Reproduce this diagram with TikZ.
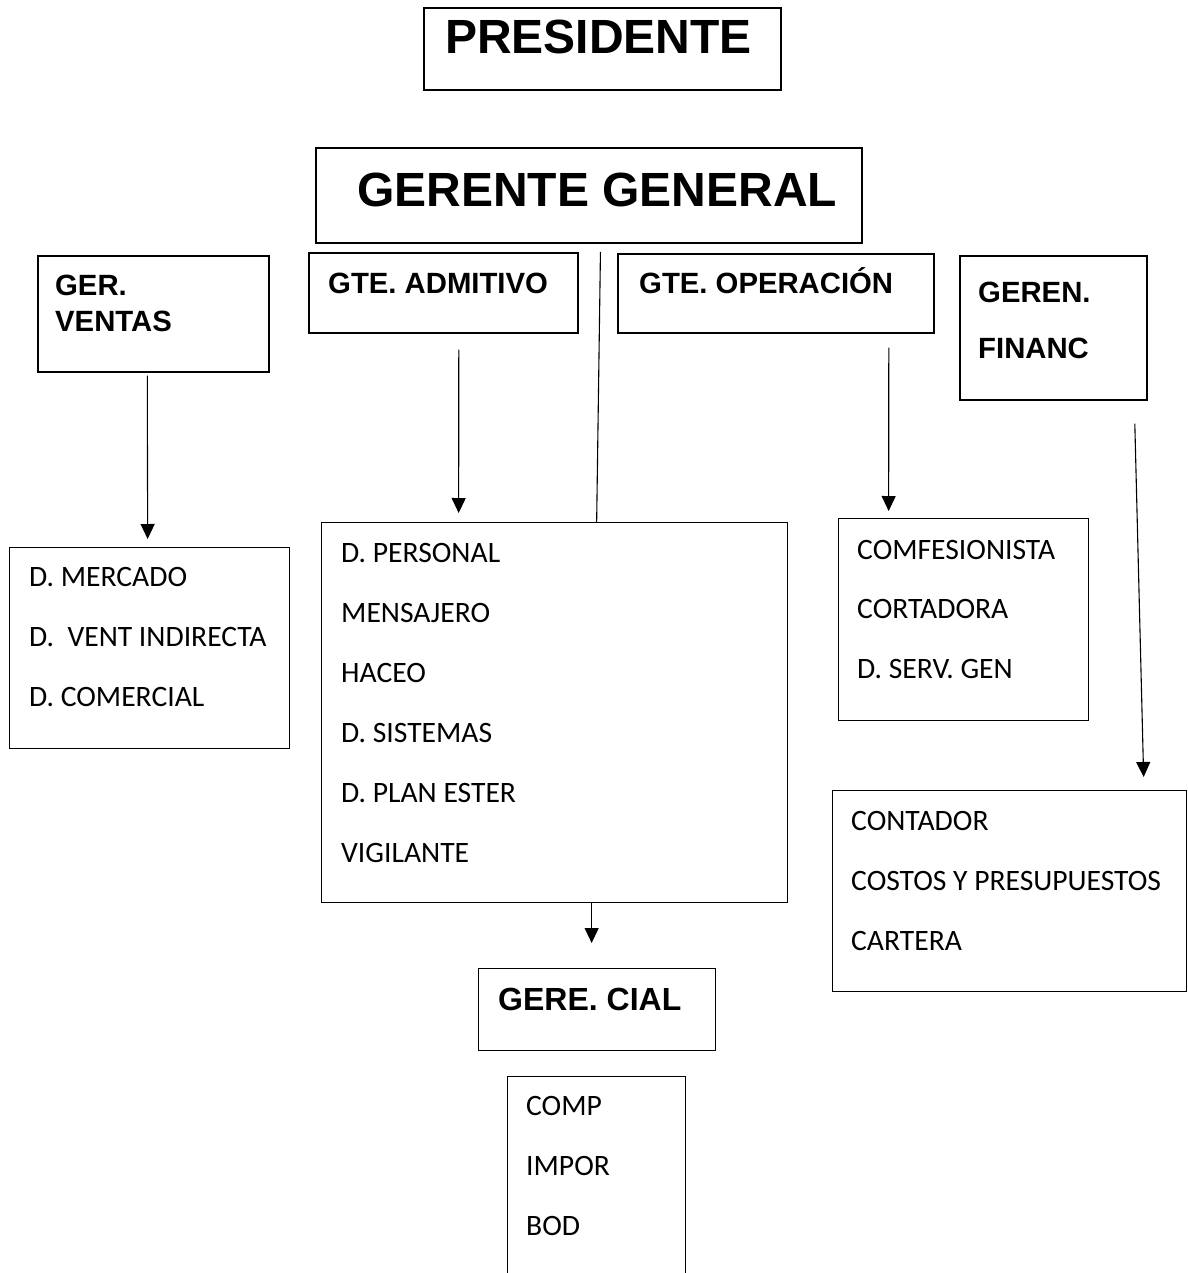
\documentclass[tikz,border=0pt]{standalone}
\usepackage{fontspec}
\setmainfont{Carlito}
\newfontfamily\arialfont{Liberation Sans}
\usetikzlibrary{arrows.meta}
\frenchspacing
\tikzset{
  box/.style={draw, line width=1.3pt, inner sep=0pt, anchor=north west},
  bigbox/.style={box, line width=1.9pt},
  hbox/.style={box, line width=1.6pt},
  lst/.style={anchor=base west, inner sep=0pt, font=\fontsize{29.6}{35}\selectfont},
  hd/.style={anchor=base west, inner sep=0pt, font=\arialfont\bfseries\fontsize{29.3}{35}\selectfont},
  hdmid/.style={anchor=base west, inner sep=0pt, font=\arialfont\bfseries\fontsize{32}{38}\selectfont},
  hdbig/.style={anchor=base west, inner sep=0pt, font=\arialfont\bfseries\fontsize{48}{56}\selectfont},
  conn/.style={line width=1.1pt},
  arr/.style={conn, -{Triangle[length=15pt,width=14pt]}},
}
\begin{document}
\begin{tikzpicture}[x=1pt, y=-1pt]
\useasboundingbox (0,0) rectangle (1187,1273);
\fill[white] (0,0) rectangle (1187,1273);
\clip (0,0) rectangle (1187,1273);

% boxes
\node[bigbox, minimum width=357pt, minimum height=82pt] (pres) at (423,7) {};
\node[bigbox, minimum width=546pt, minimum height=95pt] (gg) at (315,147) {};
\node[hbox, minimum width=231pt, minimum height=116pt] (gv) at (37,255) {};
\node[hbox, minimum width=269pt, minimum height=80pt] (ga) at (308,252) {};
\node[hbox, minimum width=316pt, minimum height=79pt] (go) at (617,253) {};
\node[hbox, minimum width=187pt, minimum height=144pt] (gf) at (959,255) {};
\node[box, minimum width=280pt, minimum height=201pt] (mer) at (9,547) {};
\node[box, minimum width=466pt, minimum height=380pt] (per) at (321,522) {};
\node[box, minimum width=250pt, minimum height=202pt] (com) at (838,518) {};
\node[box, minimum width=354pt, minimum height=201pt] (con) at (832,790) {};
\node[box, minimum width=237pt, minimum height=82pt] (gc) at (478,968) {};
\node[box, minimum width=178pt, minimum height=260pt] (cmp) at (507,1076) {};

% headings
\node[hdbig] (tpres) at (445,54) {PRESIDENTE};
\node[hdbig] (tgg) at (357,207) {GERENTE GENERAL};
\node[hd] (tgv1) at (55,295) {GER.};
\node[hd] (tgv2) at (55,331) {VENTAS};
\node[hd] (tga) at (328,293) {GTE. ADMITIVO};
\node[hd] (tgo) at (639,293) {GTE. OPERACIÓN};
\node[hd] (tgf1) at (978,302) {GEREN.};
\node[hd] (tgf2) at (978,358) {FINANC};
\node[hdmid] (tgc) at (498,1010) {GERE. CIAL};

% lists
\node[lst] (m1) at (29,586) {D. MERCADO};
\node[lst] (m2) at (29,646) {D.\ \ VENT INDIRECTA};
\node[lst] (m3) at (29,706) {D. COMERCIAL};

\node[lst] (p1) at (341,562) {D. PERSONAL};
\node[lst] (p2) at (341,622) {MENSAJERO};
\node[lst] (p3) at (341,682) {HACEO};
\node[lst] (p4) at (341,742) {D. SISTEMAS};
\node[lst] (p5) at (341,802) {D. PLAN ESTER};
\node[lst] (p6) at (341,862) {VIGILANTE};

\node[lst] (c1) at (857,559) {COMFESIONISTA};
\node[lst] (c2) at (857,618) {CORTADORA};
\node[lst] (c3) at (857,678) {D. SERV. GEN};

\node[lst] (k1) at (851,830) {CONTADOR};
\node[lst] (k2) at (851,890) {COSTOS Y PRESUPUESTOS};
\node[lst] (k3) at (851,950) {CARTERA};

\node[lst] (q1) at (526,1115) {COMP};
\node[lst] (q2) at (526,1175) {IMPOR};
\node[lst] (q3) at (526,1235) {BOD};

% connectors
\draw[arr] ([xshift=-6pt,yshift=-3pt]gv.south) -- ([xshift=-2pt,yshift=8pt]mer.north);
\draw[arr] ([xshift=15.5pt,yshift=-16pt]ga.south) -- ([xshift=-96pt,yshift=9pt]per.north);
\draw[conn] ([xshift=11.5pt,yshift=-8pt]gg.south) -- ([xshift=42pt]per.north);
\draw[arr] ([xshift=113pt,yshift=-14pt]go.south) -- ([xshift=-75pt,yshift=7pt]com.north);
\draw[arr] ([xshift=81.5pt,yshift=-23pt]gf.south) -- ([xshift=134pt,yshift=13pt]con.north);
\draw[arr] ([xshift=37pt]per.south) -- ([xshift=-5.5pt,yshift=25pt]gc.north);
\end{tikzpicture}
\end{document}
